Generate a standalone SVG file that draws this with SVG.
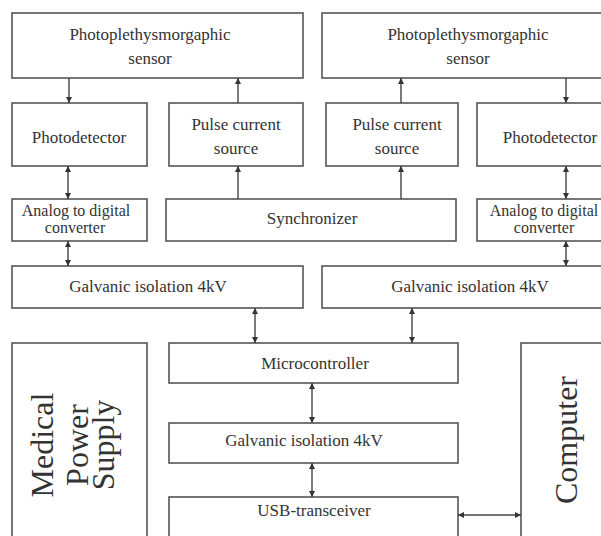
<svg xmlns="http://www.w3.org/2000/svg" width="601" height="536" viewBox="0 0 601 536">
<defs>
<marker id="ah" viewBox="0 0 10 10" refX="10" refY="5" markerWidth="6" markerHeight="6" orient="auto-start-reverse" markerUnits="userSpaceOnUse">
<path d="M0,0 L10,5 L0,10 z" fill="#333"/>
</marker>
<style>
rect{fill:#fff;stroke:#555;stroke-width:1.6}
text{font-family:"Liberation Serif","Times New Roman",serif;font-size:17px;fill:#333;text-anchor:middle}
.big{font-size:32px}
.sm{font-size:16px}
.c line{stroke:#444;stroke-width:1.4}
</style>
</defs>
<rect x="0" y="0" width="601" height="536" style="fill:#fff;stroke:none"/>
<g id="sensor-left"><rect x="12" y="13" width="291" height="65"/><text x="150" y="40">Photoplethysmorgaphic</text><text x="150" y="64">sensor</text></g>
<g id="sensor-right"><rect x="322" y="13" width="290" height="65"/><text x="468" y="40">Photoplethysmorgaphic</text><text x="468" y="64">sensor</text></g>
<g id="photodetector-left"><rect x="12" y="103" width="135" height="63"/><text x="79" y="143">Photodetector</text></g>
<g id="pulse-left"><rect x="169" y="103" width="134" height="63"/><text x="236" y="130">Pulse current</text><text x="236" y="154">source</text></g>
<g id="pulse-right"><rect x="326" y="103" width="132" height="63"/><text x="397" y="130">Pulse current</text><text x="397" y="154">source</text></g>
<g id="photodetector-right"><rect x="477" y="103" width="135" height="63"/><text x="550" y="143">Photodetector</text></g>
<g id="adc-left"><rect x="12" y="199" width="135" height="42"/><text class="sm" x="76" y="216">Analog to digital</text><text class="sm" x="75" y="233">converter</text></g>
<g id="synchronizer"><rect x="166" y="199" width="290" height="42"/><text x="312" y="224">Synchronizer</text></g>
<g id="adc-right"><rect x="477" y="199" width="135" height="42"/><text class="sm" x="544" y="216">Analog to digital</text><text class="sm" x="544" y="233">converter</text></g>
<g id="galvanic-left"><rect x="12" y="266" width="291" height="42"/><text x="148" y="292">Galvanic isolation 4kV</text></g>
<g id="galvanic-right"><rect x="322" y="266" width="290" height="42"/><text x="470" y="292">Galvanic isolation 4kV</text></g>
<g id="microcontroller"><rect x="169" y="343" width="289" height="40"/><text x="315" y="369">Microcontroller</text></g>
<g id="galvanic-center"><rect x="169" y="423" width="289" height="40"/><text x="304" y="446">Galvanic isolation 4kV</text></g>
<g id="usb"><rect x="169" y="497" width="289" height="50"/><text x="314" y="516">USB-transceiver</text></g>
<g id="power"><rect x="12" y="343" width="135" height="200"/><text class="big" transform="translate(53,445) rotate(-90)">Medical</text><text class="big" transform="translate(88,445) rotate(-90)">Power</text><text class="big" transform="translate(114,445) rotate(-90)">Supply</text></g>
<g id="computer"><rect x="521" y="343" width="90" height="200"/><text class="big" transform="translate(577,440) rotate(-90)">Computer</text></g>
<g id="connectors" class="c">
<line x1="69" y1="78" x2="69" y2="103" marker-end="url(#ah)"/>
<line x1="238" y1="103" x2="238" y2="78" marker-end="url(#ah)"/>
<line x1="401" y1="103" x2="401" y2="78" marker-end="url(#ah)"/>
<line x1="566" y1="78" x2="566" y2="103" marker-end="url(#ah)"/>
<line x1="238" y1="199" x2="238" y2="166" marker-end="url(#ah)"/>
<line x1="401" y1="199" x2="401" y2="166" marker-end="url(#ah)"/>
<line x1="68" y1="166" x2="68" y2="199" marker-start="url(#ah)" marker-end="url(#ah)"/>
<line x1="566" y1="166" x2="566" y2="199" marker-start="url(#ah)" marker-end="url(#ah)"/>
<line x1="68" y1="241" x2="68" y2="266" marker-start="url(#ah)" marker-end="url(#ah)"/>
<line x1="566" y1="241" x2="566" y2="266" marker-start="url(#ah)" marker-end="url(#ah)"/>
<line x1="255" y1="308" x2="255" y2="343" marker-start="url(#ah)" marker-end="url(#ah)"/>
<line x1="412" y1="308" x2="412" y2="343" marker-start="url(#ah)" marker-end="url(#ah)"/>
<line x1="312" y1="383" x2="312" y2="423" marker-start="url(#ah)" marker-end="url(#ah)"/>
<line x1="312" y1="463" x2="312" y2="497" marker-start="url(#ah)" marker-end="url(#ah)"/>
<line x1="458" y1="515" x2="521" y2="515" marker-start="url(#ah)" marker-end="url(#ah)"/>
</g>
</svg>
